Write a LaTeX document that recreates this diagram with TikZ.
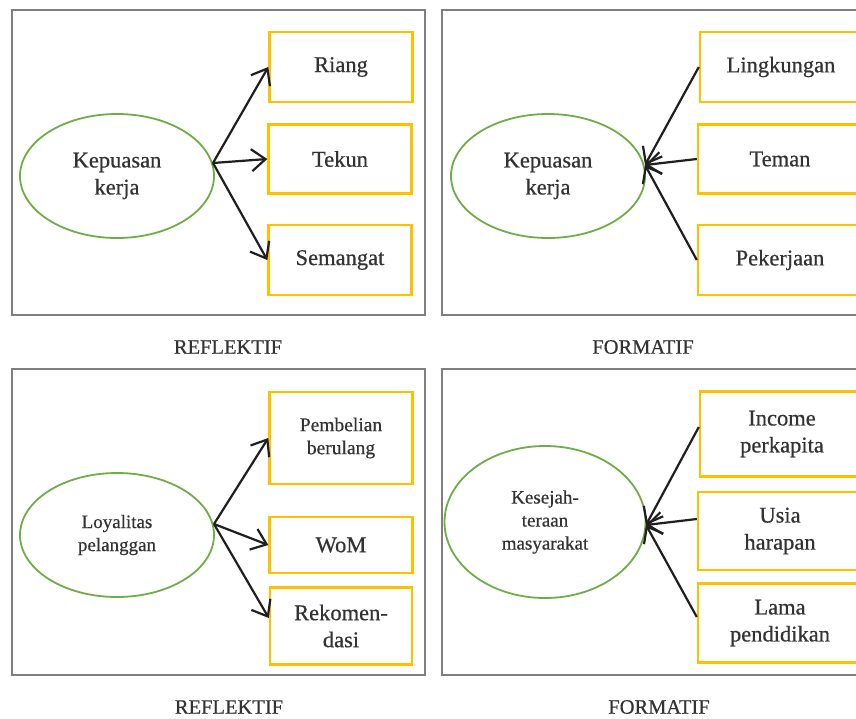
\documentclass[tikz,border=0pt]{standalone}
\usepackage{fontspec}
\setmainfont[FakeBold=0.5]{Liberation Serif}
\usetikzlibrary{shapes.geometric,arrows.meta}
\definecolor{framegray}{HTML}{7F7F7F}
\definecolor{boxgold}{HTML}{FFC000}
\definecolor{ellgreen}{HTML}{70AD47}
\definecolor{txt}{HTML}{333333}
\tikzset{
  panel/.style={draw=framegray,line width=2pt},
  latent/.style={draw=ellgreen,line width=1.8pt,ellipse,inner sep=0pt,text=txt,align=center},
  big/.style={font=\fontsize{22.5}{27}\selectfont},
  indic/.style={draw=boxgold,line width=2.4pt,inner sep=0pt,text=txt,align=center,big},
  small/.style={font=\fontsize{19.5}{23}\selectfont},
  link/.style={line width=2.2pt,draw=black!88,-{Straight Barb[length=14pt,width=22pt,line width=2.2pt]}},
  caption/.style={text=txt,font=\fontsize{20.5}{24}\selectfont}
}
\begin{document}
\begin{tikzpicture}[x=1pt,y=-1pt]
\useasboundingbox (0,0) rectangle (856,718);
\clip (0,0) rectangle (856,718);
\fill[white] (0,0) rectangle (856,718);

% panel frames
\draw[panel] (12,10) rectangle (425,315);
\draw[panel] (442,10) rectangle (875,315);
\draw[panel] (12,369) rectangle (425,675);
\draw[panel] (442,369) rectangle (875,675);

% top left: reflective
\node[latent,minimum width=194pt,minimum height=124pt,big] (kA) at (117,176) {Kepuasan\\kerja};
\node[indic,minimum width=143pt,minimum height=70pt] (riang) at (341,67) {Riang};
\node[indic,minimum width=143pt,minimum height=69pt] (tekun) at (340,159) {Tekun};
\node[indic,minimum width=143pt,minimum height=70pt] (semangat) at (340,260) {Semangat};
\coordinate (kAout) at (213,163);
\draw[link] (kAout) -- (riang.west);
\draw[link] (kAout) -- (tekun.west);
\draw[link] (kAout) -- (semangat.west);

% top right: formative
\node[latent,minimum width=194pt,minimum height=124pt,big] (kB) at (548,176) {Kepuasan\\kerja};
\node[indic,minimum width=162pt,minimum height=70pt] (lingk) at (781,67) {Lingkungan};
\node[indic,minimum width=164pt,minimum height=69pt] (teman) at (780,159) {Teman};
\node[indic,minimum width=164pt,minimum height=70pt] (pekerjaan) at (780,260) {Pekerjaan};
\coordinate (kBin) at (645,165);
\draw[link] (lingk.west) -- (kBin);
\draw[link] (teman.west) -- (kBin);
\draw[link] (pekerjaan.west) -- (kBin);

\node[caption] (capA) at (228,347) {REFLEKTIF};
\node[caption] (capB) at (643,347) {FORMATIF};

% bottom left: reflective
\node[latent,minimum width=194pt,minimum height=124pt,font=\fontsize{19}{23}\selectfont] (loy) at (117,535) {Loyalitas\\pelanggan};
\node[indic,small,minimum width=143pt,minimum height=92pt] (beli) at (341,438) {Pembelian\\berulang};
\node[indic,minimum width=143pt,minimum height=56pt] (wom) at (341,545) {WoM};
\node[indic,minimum width=142pt,minimum height=77pt] (rekom) at (341,626) {Rekomen-\\dasi};
\coordinate (loyout) at (214,524);
\draw[link] (loyout) -- (beli.west);
\draw[link] (loyout) -- (wom.west);
\draw[link] (loyout) -- ([yshift=8pt]rekom.west);

% bottom right: formative
\node[latent,minimum width=201pt,minimum height=152pt,font=\fontsize{19}{23}\selectfont] (sej) at (545,522) {Kesejah-\\teraan\\masyarakat};
\node[indic,minimum width=164pt,minimum height=85pt] (income) at (782,434) {Income\\perkapita};
\node[indic,minimum width=164pt,minimum height=78pt] (usia) at (780,531) {Usia\\harapan};
\node[indic,minimum width=164pt,minimum height=79pt] (lama) at (780,623) {Lama\\pendidikan};
\coordinate (sejin) at (646,525);
\draw[link] ([yshift=7pt]income.west) -- (sejin);
\draw[link] ([yshift=12pt]usia.west) -- (sejin);
\draw[link] ([yshift=6pt]lama.west) -- (sejin);

\node[caption] (capC) at (229,707) {REFLEKTIF};
\node[caption] (capD) at (659,707) {FORMATIF};
\end{tikzpicture}
\end{document}
